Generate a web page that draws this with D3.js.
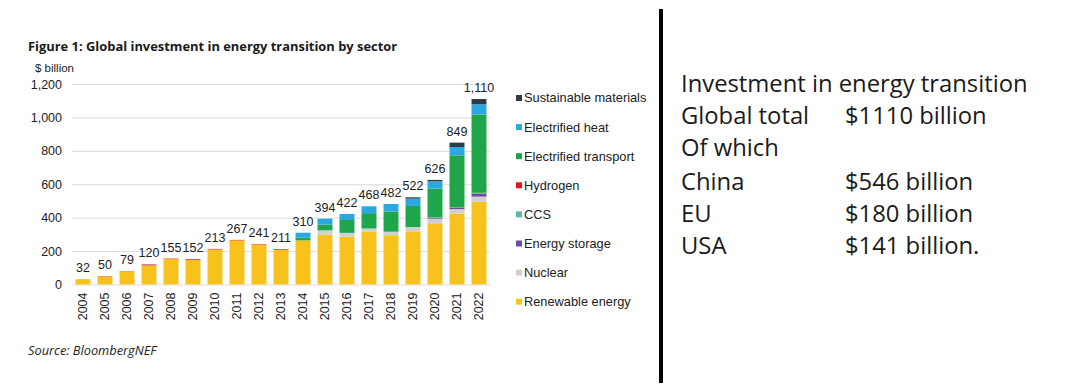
<!DOCTYPE html>
<html>
<head>
<meta charset="utf-8">
<script src="https://cdn.jsdelivr.net/npm/d3@7"></script>
<style>
  html, body { margin: 0; padding: 0; background: #fff; }
  svg { display: block; }
</style>
</head>
<body>
<svg id="chart" width="1072" height="388"></svg>
<script>
const years = ["2004","2005","2006","2007","2008","2009","2010","2011","2012","2013","2014","2015","2016","2017","2018","2019","2020","2021","2022"];
const totals = [32,50,79,120,155,152,213,267,241,211,310,394,422,468,482,522,626,849,1110];
const renewable = [32,48,77,114,152,146,210,264,238,207,264,298,285,315,290,318,362,425,495];
const nuclear   = [0,0,0,0,0,0,0,0,0,0,0,26,24,20,26,26,32,26,31];
const storage   = [0,0,0,2,0,2,0,0,0,0,0,0,0,0,0,0,5,8,16];
const ccs       = [0,0,0,0,0,0,0,0,0,0,0,0,0,0,0,0,3,2,6];
const hydrogen  = [0,2,2,4,3,4,3,3,3,4,0,0,0,0,0,0,0,1,1];
const transport = [0,0,0,0,0,0,0,0,0,0,16,34,77,92,120,126,172,311,468];
const heat      = [0,0,0,0,0,0,0,0,0,0,30,36,36,41,46,44,44,50,62];
const materials = [0,0,0,0,0,0,0,0,0,0,0,0,0,0,0,8,8,26,31];
const yTicks = [0,200,400,600,800,1000,1200];
const seriesNames = ["Renewable energy","Nuclear","Energy storage","CCS","Hydrogen","Electrified transport","Electrified heat","Sustainable materials"];
const seriesColors = ["#F8C21C","#D0D0D0","#6B4C9E","#5CB7AC","#E3151C","#1FA64A","#2CA8E0","#2F3A44"];
const seriesValues = [renewable,nuclear,storage,ccs,hydrogen,transport,heat,materials];
const infoLabels = ["Global total","Of which","China","EU","USA"];
const infoValues = ["$1110 billion","","$546 billion","$180 billion","$141 billion."];

const rows = years.map((y,i) => {
  const r = {year: y};
  seriesNames.forEach((s,k) => r[s] = seriesValues[k][i]);
  return r;
});

const svg = d3.select("#chart");
const x = d3.scaleBand().domain(years).range([72, 490]).paddingInner(0.32).paddingOuter(0.16);
const y = d3.scaleLinear().domain([0,1200]).range([284.5, 84]);
const color = d3.scaleOrdinal().domain(seriesNames).range(seriesColors);
const af = "'Liberation Sans', Arial, sans-serif";
const cf = "'Open Sans', Lato, sans-serif";

// title
svg.append("text").attr("x",28).attr("y",51)
  .style("font-family",cf).style("font-weight","bold").style("font-size","12.9px")
  .attr("fill","#1a1a1a").text("Figure 1: Global investment in energy transition by sector");
svg.append("text").attr("x",35).attr("y",72)
  .style("font-family",af).style("font-size","11.5px")
  .attr("fill","#222").text("$ billion");

// grid
const yAxis = d3.axisLeft(y).tickValues(yTicks).tickSize(-(490-72)).tickPadding(10).tickFormat(d3.format(","));
const gy = svg.append("g").attr("transform","translate(72,0)").call(yAxis);
gy.select(".domain").remove();
gy.selectAll(".tick line").attr("stroke","#dcdcdc").attr("stroke-width",1);
gy.selectAll(".tick text").style("font-family",af).style("font-size","12.5px").attr("fill","#222");

// bars
const stack = d3.stack().keys(seriesNames)(rows);
svg.append("g").selectAll("g").data(stack).join("g").attr("fill", d => color(d.key))
  .selectAll("rect").data(d => d).join("rect")
  .attr("x", d => x(d.data.year)).attr("width", x.bandwidth())
  .attr("y", d => y(d[1])).attr("height", d => Math.max(0, y(d[0]) - y(d[1])));

// totals
svg.append("g").selectAll("text").data(years).join("text")
  .attr("x", d => x(d) + x.bandwidth()/2)
  .attr("y", (d,i) => y(totals[i]) - 7)
  .attr("text-anchor","middle")
  .style("font-family",af).style("font-size","12.5px").attr("fill","#222")
  .text((d,i) => d3.format(",")(totals[i]));

// x axis labels
const xAxis = d3.axisBottom(x).tickSize(0).tickPadding(0);
const gx = svg.append("g").attr("transform","translate(0,284.5)").call(xAxis);
gx.select(".domain").remove();
gx.selectAll(".tick text")
  .attr("transform","rotate(-90)").attr("x",-8).attr("y",0).attr("dy","0.35em")
  .attr("text-anchor","end")
  .style("font-family",af).style("font-size","12.5px").attr("fill","#222");

// legend
const legendOrder = seriesNames.slice().reverse();
const lg = svg.append("g").selectAll("g").data(legendOrder).join("g")
  .attr("transform",(d,i) => `translate(516,${98 + i*29.1})`);
lg.append("rect").attr("x",0).attr("y",-3).attr("width",6).attr("height",6).attr("fill", d => color(d));
lg.append("text").attr("x",8).attr("y",0).attr("dy","0.35em")
  .style("font-family",af).style("font-size","12.8px").attr("fill","#222")
  .text(d => d);

// source
svg.append("text").attr("x",28).attr("y",355)
  .style("font-family",cf).style("font-style","italic").style("font-size","12.8px")
  .attr("fill","#222").text("Source: BloombergNEF");

// divider
svg.append("rect").attr("x",659).attr("y",9).attr("width",4).attr("height",374).attr("fill","#000");

// right text
svg.append("text").attr("x",681).attr("y",92).style("font-family",cf).style("font-size","23.8px").attr("fill","#1a1a1a")
  .text("Investment in energy transition");
const infoY = [124,156,190,222,254];
infoLabels.forEach((l,i) => {
  svg.append("text").attr("x",681).attr("y",infoY[i]).style("font-family",cf).style("font-size","23.8px").attr("fill","#1a1a1a").text(l);
  if (infoValues[i]) svg.append("text").attr("x",845).attr("y",infoY[i]).style("font-family",cf).style("font-size","23.8px").attr("fill","#1a1a1a").text(infoValues[i]);
});
</script>
</body>
</html>
